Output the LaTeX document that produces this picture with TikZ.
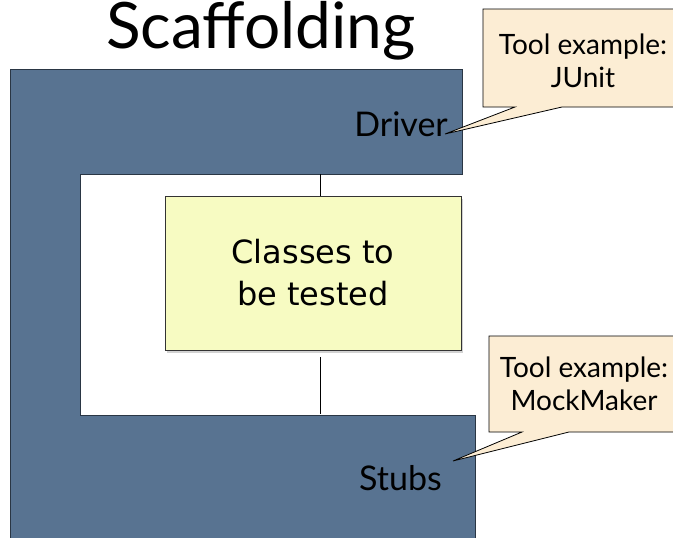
\documentclass[tikz,border=0pt]{standalone}
\usepackage{fontspec}
\setmainfont{Lato}
\newfontfamily\verd{DejaVu Sans}
\usetikzlibrary{shadows}
\definecolor{slate}{HTML}{587391}
\definecolor{slateedge}{HTML}{2A3644}
\definecolor{boxyellow}{HTML}{F7FBC2}
\definecolor{calloutfill}{HTML}{FCEDD4}
\tikzset{
  band/.style={fill=slate, draw=slateedge, line width=0.8pt},
  classbox/.style={draw=black!80, fill=boxyellow, line width=0.8pt, minimum width=296pt, minimum height=154pt, inner sep=0pt, align=center, font=\verd\fontsize{32}{42}\selectfont, drop shadow={opacity=0.35, shadow xshift=2pt, shadow yshift=-3pt}},
  callout/.style={draw=black, fill=calloutfill, line width=0.8pt, line join=miter},
  callouttext/.style={align=center, font=\fontsize{28}{33}\selectfont, inner sep=0pt},
  bandlabel/.style={font=\fontsize{34}{38}\selectfont, inner sep=0pt},
  link/.style={draw=black, line width=0.9pt}
}
\begin{document}
\begin{tikzpicture}[x=1pt,y=-1pt]
\useasboundingbox (0,0) rectangle (673,538);
\fill[white] (0,0) rectangle (673,538);
% title
\node[font=\fontsize{64}{70}\selectfont, inner sep=0pt] (title) at (261,31) {Scaffolding};
% scaffolding band
\draw[band] (10,69) -- (462,69) -- (462,174) -- (80,174) -- (80,415) -- (475,415) -- (475,540) -- (10,540) -- cycle;
% coordinates for links
\coordinate (drvedge) at (320,174);
\coordinate (stbedge) at (320,414);
% class box
\node[classbox] (cls) at (313,273) {Classes to\\be tested};
\draw[link] (drvedge) -- (cls.north -| drvedge);
\draw[link] ([yshift=-7pt]cls.south -| stbedge) -- (stbedge);
% labels
\node[bandlabel, anchor=east] (driver) at (448,124) {Driver};
\node[bandlabel, anchor=east] (stubs) at (442,478) {Stubs};
% callouts
\coordinate (tipA) at (445,134);
\draw[callout] (483,9) -- (675,9) -- (675,107) -- (562,107) -- (tipA) -- (515,107) -- (483,107) -- cycle;
\node[callouttext] (toolA) at (583,61) {Tool example:\\JUnit};
\coordinate (tipB) at (453,461);
\draw[callout] (489,336) -- (675,336) -- (675,432) -- (569,432) -- (tipB) -- (522,432) -- (489,432) -- cycle;
\node[callouttext] (toolB) at (584,384) {Tool example:\\MockMaker};
\end{tikzpicture}
\end{document}
